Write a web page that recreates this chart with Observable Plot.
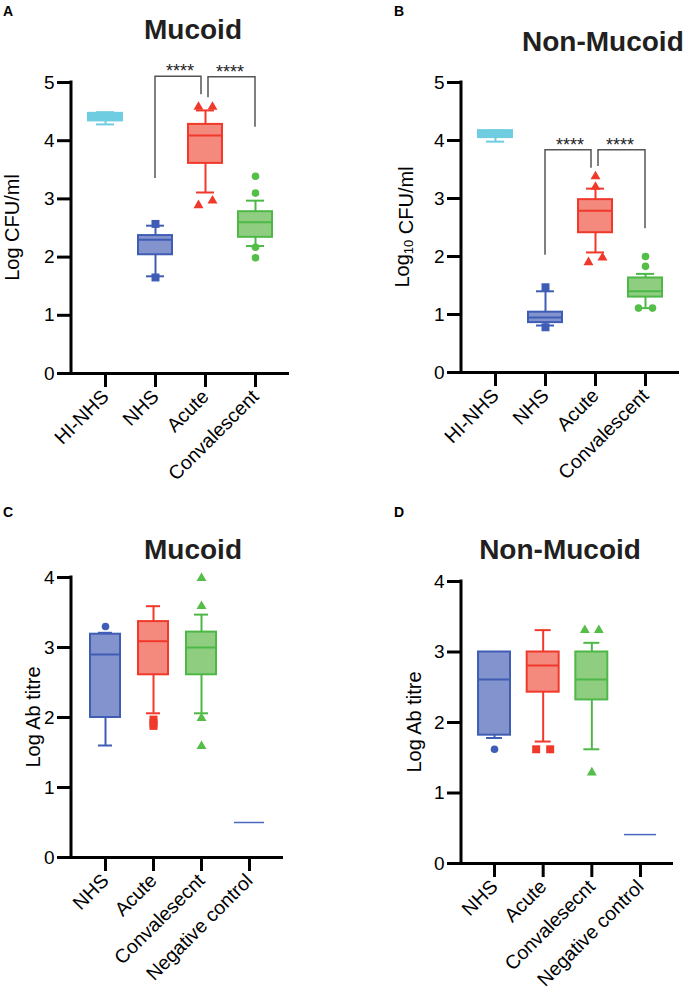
<!DOCTYPE html>
<html><head><meta charset="utf-8">
<script src="https://cdn.jsdelivr.net/npm/d3@7"></script>
<script src="https://cdn.jsdelivr.net/npm/@observablehq/plot@0.6"></script>
<style>
html,body{margin:0;padding:0;background:#fff;}
#page{position:relative;width:688px;height:993px;overflow:hidden;background:#fff;font-family:"Liberation Sans",Arial,Helvetica,sans-serif;}
.panel{position:absolute;}
.panel svg{overflow:visible;}
.title{position:absolute;font-weight:bold;font-size:28px;line-height:28px;color:#231F20;white-space:nowrap;}
.letter{position:absolute;font-weight:bold;font-size:14px;line-height:14px;color:#000;}
</style></head><body><div id="page"></div>
<script>
const FONT = '"Liberation Sans", Arial, Helvetica, sans-serif';

// ---------- categories ----------
const groupsAB = ["HI-NHS", "NHS", "Acute", "Convalescent"];
const groupsCD = ["NHS", "Acute", "Convalesecnt", "Negative control"];
const yTicksAB = [0, 1, 2, 3, 4, 5];
const yTicksCD = [0, 1, 2, 3, 4];

// ---------- A: Mucoid, Log CFU/ml ----------
const boxA = [
  {group: "HI-NHS", low: 4.28, q1: 4.34, median: 4.41, q3: 4.47, high: 4.49},
  {group: "NHS", low: 1.67, q1: 2.04, median: 2.30, q3: 2.37, high: 2.54},
  {group: "Acute", low: 3.11, q1: 3.61, median: 4.09, q3: 4.28, high: 4.52},
  {group: "Convalescent", low: 2.19, q1: 2.34, median: 2.60, q3: 2.78, high: 2.97}
];
const outliersA = [
  {group: "NHS", value: 2.57, side: 0}, {group: "NHS", value: 1.65, side: 0},
  {group: "Acute", value: 4.58, side: -1}, {group: "Acute", value: 4.58, side: 1},
  {group: "Acute", value: 2.89, side: -1}, {group: "Acute", value: 2.97, side: 1},
  {group: "Convalescent", value: 3.39, side: 0}, {group: "Convalescent", value: 3.10, side: 0},
  {group: "Convalescent", value: 2.17, side: 0}, {group: "Convalescent", value: 1.99, side: 0}
];
const bracketsA = [
  {from: "NHS", to: "Acute", fromY: 3.35, top: 5.10, toY: 4.79, label: "****"},
  {from: "Acute", to: "Convalescent", fromY: 4.74, top: 5.09, toY: 4.23, label: "****"}
];

// ---------- B: Non-Mucoid, Log10 CFU/ml ----------
const boxB = [
  {group: "HI-NHS", low: 3.98, q1: 4.05, median: 4.10, q3: 4.17, high: 4.17},
  {group: "NHS", low: 0.81, q1: 0.86, median: 0.95, q3: 1.04, high: 1.40},
  {group: "Acute", low: 2.07, q1: 2.41, median: 2.79, q3: 2.98, high: 3.17},
  {group: "Convalescent", low: 1.11, q1: 1.30, median: 1.40, q3: 1.63, high: 1.70}
];
const outliersB = [
  {group: "NHS", value: 1.47, side: 0}, {group: "NHS", value: 0.78, side: 0},
  {group: "Acute", value: 3.38, side: 0}, {group: "Acute", value: 3.20, side: 0},
  {group: "Acute", value: 1.90, side: -1}, {group: "Acute", value: 1.98, side: 1},
  {group: "Convalescent", value: 2.00, side: 0}, {group: "Convalescent", value: 1.83, side: 0},
  {group: "Convalescent", value: 1.11, side: -1}, {group: "Convalescent", value: 1.11, side: 1}
];
const bracketsB = [
  {from: "NHS", to: "Acute", fromY: 2.02, top: 3.83, toY: 3.52, label: "****"},
  {from: "Acute", to: "Convalescent", fromY: 3.55, top: 3.83, toY: 2.48, label: "****"}
];

// ---------- C: Mucoid, Log Ab titre ----------
const boxC = [
  {group: "NHS", low: 1.60, q1: 2.00, median: 2.90, q3: 3.19, high: 3.21},
  {group: "Acute", low: 2.06, q1: 2.61, median: 3.09, q3: 3.37, high: 3.59},
  {group: "Convalesecnt", low: 2.06, q1: 2.61, median: 3.00, q3: 3.22, high: 3.47},
  {group: "Negative control", low: 0.50, q1: 0.50, median: 0.50, q3: 0.50, high: 0.50}
];
const outliersC = [
  {group: "NHS", value: 3.30, side: 0},
  {group: "Acute", value: 1.97, side: 0}, {group: "Acute", value: 1.92, side: 0}, {group: "Acute", value: 1.88, side: 0},
  {group: "Convalesecnt", value: 3.99, side: 0}, {group: "Convalesecnt", value: 3.59, side: 0},
  {group: "Convalesecnt", value: 1.99, side: 0}, {group: "Convalesecnt", value: 1.59, side: 0}
];

// ---------- D: Non-Mucoid, Log Ab titre ----------
const boxD = [
  {group: "NHS", low: 1.78, q1: 1.82, median: 2.61, q3: 3.00, high: 3.00},
  {group: "Acute", low: 1.73, q1: 2.43, median: 2.81, q3: 3.00, high: 3.31},
  {group: "Convalesecnt", low: 1.62, q1: 2.32, median: 2.61, q3: 3.00, high: 3.13},
  {group: "Negative control", low: 0.41, q1: 0.41, median: 0.41, q3: 0.41, high: 0.41}
];
const outliersD = [
  {group: "NHS", value: 1.62, side: 0},
  {group: "Acute", value: 1.62, side: -1}, {group: "Acute", value: 1.62, side: 1},
  {group: "Convalesecnt", value: 3.31, side: -1}, {group: "Convalesecnt", value: 3.31, side: 1},
  {group: "Convalesecnt", value: 1.29, side: 0}
];

// ---------- styles ----------
const blue = {stroke: "#3F5DB5", fill: "#8393CD", mark: "#3F5DB5"};
const red = {stroke: "#F0392B", fill: "#F48A7E", mark: "#F0392B"};
const green = {stroke: "#4DB847", fill: "#8FCE80", mark: "#55BE48"};
const groupStyle = {
  "HI-NHS": {stroke: "#6FCDE1", fill: "#6FCDE1", mark: "#6FCDE1"},
  "NHS": blue, "Acute": red, "Convalescent": green, "Convalesecnt": green,
  "Negative control": {stroke: "#4A67C0", fill: "none", mark: "#4A67C0"}
};
const symbolAB = {"NHS": "square", "Acute": "triangle", "Convalescent": "circle"};
const symbolCD = {"NHS": "circle", "Acute": "square", "Convalesecnt": "triangle"};
const symbolR = {circle: 3.8, square: 4.5, triangle: 3.7};

function yAxisLine(yMax) {
  return (index, {y}, values, {marginLeft}) =>
    d3.create("svg:line")
      .attr("x1", marginLeft).attr("x2", marginLeft)
      .attr("y1", y(0) + 1.5).attr("y2", y(yMax) - 1.5)
      .attr("stroke", "#000").attr("stroke-width", 3).node();
}

function yLabel(parts, gap, yMax) {
  return (index, {y}, values, {marginLeft}) => {
    const t = d3.create("svg:text")
      .attr("transform", `translate(${marginLeft - gap},${(y(0) + y(yMax)) / 2}) rotate(-90)`)
      .attr("text-anchor", "middle").attr("font-size", 20)
      .attr("font-family", FONT).attr("fill", "#000");
    for (const p of parts) {
      if (typeof p === "string") t.append("tspan").text(p);
      else {
        t.append("tspan").attr("font-size", 13).attr("dy", 4).text(p.sub);
        t.append("tspan").attr("dy", -4).text("");
      }
    }
    return t.node();
  };
}

function bracketMark(brackets) {
  return (index, {x, y}) => {
    const c = g => x(g) + x.bandwidth() / 2;
    const g = d3.create("svg:g");
    for (const b of brackets) {
      const offFrom = brackets.some(o => o.to === b.from) ? 3 : 0;
      const offTo = brackets.some(o => o.from === b.to) ? -4 : 0;
      const x1 = c(b.from) + offFrom, x2 = c(b.to) + offTo;
      g.append("path")
        .attr("d", `M${x1},${y(b.fromY)}V${y(b.top)}H${x2}V${y(b.toY)}`)
        .attr("fill", "none").attr("stroke", "#555").attr("stroke-width", 1.5);
      g.append("text")
        .attr("x", (c(b.from) + c(b.to)) / 2).attr("y", y(b.top) + 1)
        .attr("text-anchor", "middle").attr("font-size", 18)
        .attr("font-family", FONT).attr("fill", "#222").text(b.label);
    }
    return g.node();
  };
}

function makePanel(cfg) {
  const {groups, boxes, outliers, brackets, yMax, yTicks, symbols, L} = cfg;
  const hasBox = d => d.q3 > d.q1;
  const bx = boxes.filter(hasBox);
  const flat = boxes.filter(d => !hasBox(d));
  const st = k => d => groupStyle[d.group][k];
  const dotMarks = [];
  for (const g of groups) {
    for (const side of [-1, 0, 1]) {
      const sub = outliers.filter(o => o.group === g && o.side === side);
      if (!sub.length) continue;
      const sym = symbols[g];
      dotMarks.push(Plot.dot(sub, {x: "group", y: "value", symbol: sym, r: symbolR[sym],
        fill: groupStyle[g].mark, stroke: "none", dx: side * 7}));
    }
  }
  return Plot.plot({
    width: 344, height: L.height,
    marginLeft: L.ml, marginRight: L.mr, marginTop: L.mt, marginBottom: L.mb,
    x: {type: "band", domain: groups, paddingInner: L.pi, paddingOuter: L.po, round: false},
    y: {domain: [0, yMax]},
    color: {type: "identity"},
    style: {fontFamily: FONT, color: "#000", background: "transparent", overflow: "visible"},
    marks: [
      Plot.ruleX(bx, {x: "group", y1: "low", y2: "q1", stroke: st("stroke"), strokeWidth: 2}),
      Plot.ruleX(bx, {x: "group", y1: "q3", y2: "high", stroke: st("stroke"), strokeWidth: 2}),
      Plot.tickY(bx, {x: "group", y: "low", stroke: st("stroke"), strokeWidth: 2, insetLeft: 8, insetRight: 8}),
      Plot.tickY(bx, {x: "group", y: "high", stroke: st("stroke"), strokeWidth: 2, insetLeft: 8, insetRight: 8}),
      Plot.barY(bx, {x: "group", y1: "q1", y2: "q3", fill: st("fill"), stroke: st("stroke"), strokeWidth: 2}),
      Plot.tickY(bx, {x: "group", y: "median", stroke: st("stroke"), strokeWidth: 2}),
      Plot.tickY(flat, {x: "group", y: "median", stroke: st("stroke"), strokeWidth: 1.5}),
      ...dotMarks,
      brackets ? bracketMark(brackets) : null,
      Plot.axisY({ticks: yTicks, tickSize: 14, strokeWidth: 3, fontSize: 19, tickPadding: 3,
        tickFormat: d => String(d), label: null, fill: "#000"}),
      Plot.axisX({tickSize: 14, strokeWidth: 3, fontSize: 19.5, tickRotate: -45, tickPadding: 6,
        label: null, fill: "#000"}),
      Plot.ruleY([0], {stroke: "#000", strokeWidth: 3, insetLeft: -14}),
      yAxisLine(yMax),
      yLabel(cfg.label, L.labelGap, yMax)
    ].filter(Boolean)
  });
}

const page = document.getElementById("page");
function place(node, left, top) {
  const d = document.createElement("div");
  d.className = "panel"; d.style.left = left + "px"; d.style.top = top + "px";
  d.appendChild(node); page.appendChild(d);
}
function text(cls, str, left, top, center) {
  const d = document.createElement("div");
  d.className = cls; d.textContent = str;
  d.style.left = left + "px"; d.style.top = top + "px";
  if (center) d.style.transform = "translateX(-50%)";
  page.appendChild(d);
}

place(makePanel({groups: groupsAB, boxes: boxA, outliers: outliersA, brackets: bracketsA, yMax: 5, yTicks: yTicksAB,
  symbols: symbolAB, label: ["Log CFU/ml"],
  L: {height: 500, ml: 71, mr: 55, mt: 82, mb: 127, pi: 0.32, po: 0.34, labelGap: 52}}), 0, 0);
place(makePanel({groups: groupsAB, boxes: boxB, outliers: outliersB, brackets: bracketsB, yMax: 5, yTicks: yTicksAB,
  symbols: symbolAB, label: ["Log", {sub: "10"}, " CFU/ml"],
  L: {height: 500, ml: 117, mr: 9, mt: 82, mb: 128, pi: 0.32, po: 0.34, labelGap: 52}}), 344, 0);
place(makePanel({groups: groupsCD, boxes: boxC, outliers: outliersC, brackets: null, yMax: 4, yTicks: yTicksCD,
  symbols: symbolCD, label: ["Log Ab titre"],
  L: {height: 493, ml: 71, mr: 61, mt: 77, mb: 136, pi: 0.375, po: 0.396, labelGap: 31}}), 0, 500);
place(makePanel({groups: groupsCD, boxes: boxD, outliers: outliersD, brackets: null, yMax: 4, yTicks: yTicksCD,
  symbols: symbolCD, label: ["Log Ab titre"],
  L: {height: 493, ml: 117, mr: 15, mt: 81, mb: 130, pi: 0.343, po: 0.35, labelGap: 40}}), 344, 500);

text("title", "Mucoid", 193, 16, true);
text("title", "Non-Mucoid", 522, 28, false);
text("title", "Mucoid", 193, 536, true);
text("title", "Non-Mucoid", 560, 536, true);
text("letter", "A", 3, 4, false);
text("letter", "B", 394, 4, false);
text("letter", "C", 3, 505, false);
text("letter", "D", 394, 505, false);
</script></body></html>
